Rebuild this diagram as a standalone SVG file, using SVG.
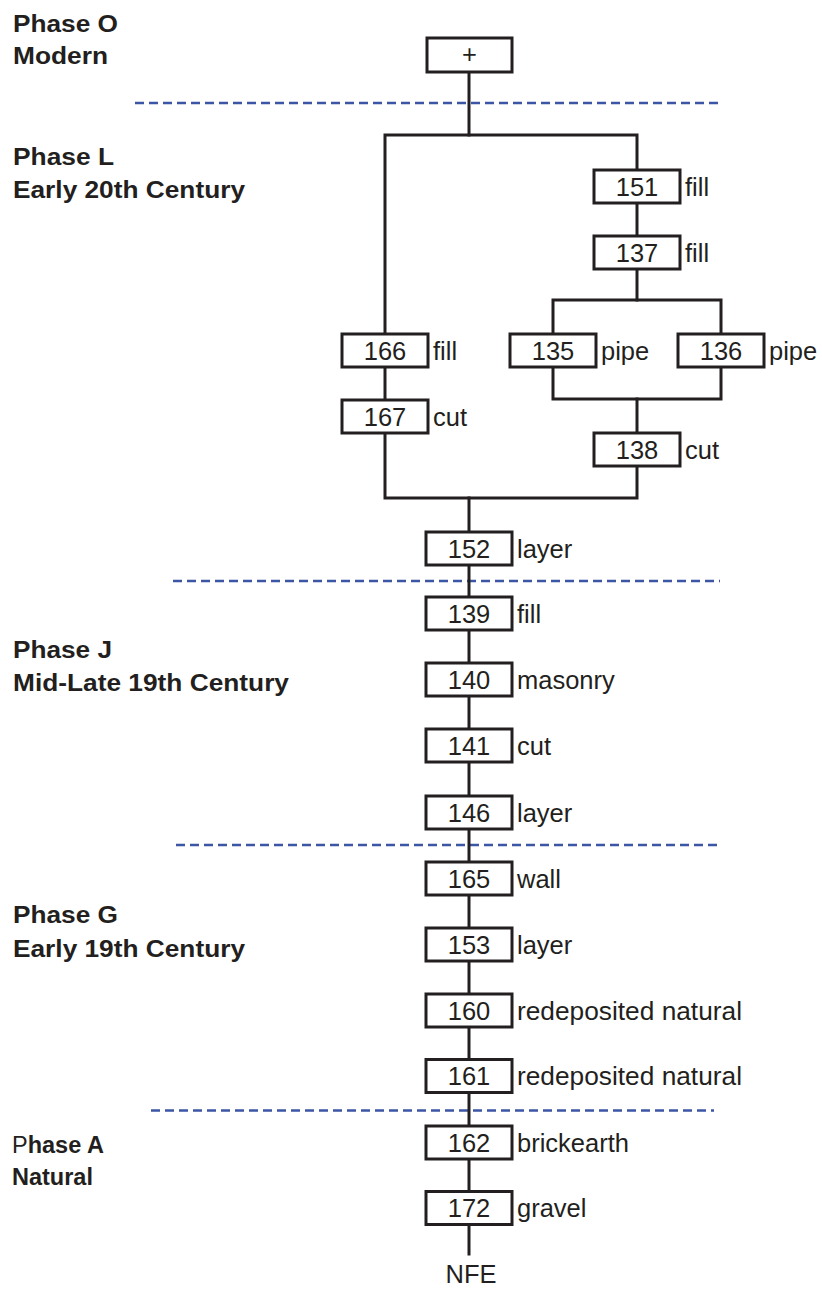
<svg xmlns="http://www.w3.org/2000/svg" width="822" height="1289" viewBox="0 0 822 1289">
  <style>
    .box { fill: #ffffff; stroke: #231f20; stroke-width: 3; }
    .num { font-family: "Liberation Sans", Arial, sans-serif; font-size: 25.5px; fill: #231f20; text-anchor: middle; }
    .lbl { font-family: "Liberation Sans", Arial, sans-serif; font-size: 25.5px; fill: #231f20; }
    .phase { font-family: "Liberation Sans", Arial, sans-serif; font-size: 23.5px; font-weight: bold; fill: #231f20; }
    .wire { fill: none; stroke: #231f20; stroke-width: 3; stroke-linejoin: miter; stroke-linecap: square; }
    .divider { stroke: #3c56a5; stroke-width: 2.5; stroke-dasharray: 9 5; fill: none; }
  </style>

  <!-- phase titles -->
  <g id="phase-o">
    <text class="phase" x="13" y="32" textLength="105" lengthAdjust="spacingAndGlyphs">Phase O</text>
    <text class="phase" x="13" y="64" textLength="95" lengthAdjust="spacingAndGlyphs">Modern</text>
  </g>
  <g id="phase-l">
    <text class="phase" x="13" y="165" textLength="101" lengthAdjust="spacingAndGlyphs">Phase L</text>
    <text class="phase" x="13" y="198" textLength="232" lengthAdjust="spacingAndGlyphs">Early 20th Century</text>
  </g>
  <g id="phase-j">
    <text class="phase" x="13" y="658" textLength="99" lengthAdjust="spacingAndGlyphs">Phase J</text>
    <text class="phase" x="13" y="691" textLength="276" lengthAdjust="spacingAndGlyphs">Mid-Late 19th Century</text>
  </g>
  <g id="phase-g">
    <text class="phase" x="13" y="923" textLength="105" lengthAdjust="spacingAndGlyphs">Phase G</text>
    <text class="phase" x="13" y="957" textLength="232" lengthAdjust="spacingAndGlyphs">Early 19th Century</text>
  </g>
  <g id="phase-a">
    <text class="phase" x="12" y="1153"><tspan font-weight="normal">P</tspan>hase A</text>
    <text class="phase" x="12" y="1185">Natural</text>
  </g>

  <!-- phase boundaries -->
  <g id="boundaries">
    <line class="divider" x1="135" y1="103" x2="718" y2="103"/>
    <line class="divider" x1="173" y1="581" x2="720" y2="581"/>
    <line class="divider" x1="176" y1="845" x2="717" y2="845"/>
    <line class="divider" x1="151" y1="1110.5" x2="714" y2="1110.5"/>
  </g>

  <!-- stratigraphic links -->
  <g id="connectors">
    <path class="wire" d="M469 72 V135"/>
    <path class="wire" d="M385 334 V135 H637 V170"/>
    <path class="wire" d="M637 203 V236"/>
    <path class="wire" d="M637 269 V300"/>
    <path class="wire" d="M553 334 V300 H721 V334"/>
    <path class="wire" d="M553 367 V399 H721 V367"/>
    <path class="wire" d="M637 399 V433"/>
    <path class="wire" d="M385 367 V400"/>
    <path class="wire" d="M385 433 V498 H637 V466"/>
    <path class="wire" d="M469 498 V532"/>
    <path class="wire" d="M469 565 V597"/>
    <path class="wire" d="M469 630 V663"/>
    <path class="wire" d="M469 696 V729"/>
    <path class="wire" d="M469 762 V796"/>
    <path class="wire" d="M469 829 V862"/>
    <path class="wire" d="M469 895 V928"/>
    <path class="wire" d="M469 961 V994"/>
    <path class="wire" d="M469 1027 V1059.5"/>
    <path class="wire" d="M469 1092.5 V1126"/>
    <path class="wire" d="M469 1159 V1191.5"/>
    <path class="wire" d="M469 1224.5 V1254"/>
  </g>

  <!-- contexts -->
  <g id="n-top">
    <rect class="box" x="427" y="38" width="85" height="34"/>
    <text class="num" x="469.5" y="63" font-size="22">+</text>
  </g>
  <g id="n151">
    <rect class="box" x="594" y="170" width="86" height="33"/>
    <text class="num" x="637" y="195.5">151</text>
    <text class="lbl" x="685" y="195.5">fill</text>
  </g>
  <g id="n137">
    <rect class="box" x="594" y="236" width="86" height="33"/>
    <text class="num" x="637" y="261.5">137</text>
    <text class="lbl" x="685" y="261.5">fill</text>
  </g>
  <g id="n166">
    <rect class="box" x="342" y="334" width="86" height="33"/>
    <text class="num" x="385" y="359.5">166</text>
    <text class="lbl" x="433" y="359.5">fill</text>
  </g>
  <g id="n135">
    <rect class="box" x="510" y="334" width="86" height="33"/>
    <text class="num" x="553" y="359.5">135</text>
    <text class="lbl" x="601" y="359.5">pipe</text>
  </g>
  <g id="n136">
    <rect class="box" x="678" y="334" width="86" height="33"/>
    <text class="num" x="721" y="359.5">136</text>
    <text class="lbl" x="769" y="359.5">pipe</text>
  </g>
  <g id="n167">
    <rect class="box" x="342" y="400" width="86" height="33"/>
    <text class="num" x="385" y="425.5">167</text>
    <text class="lbl" x="433" y="425.5">cut</text>
  </g>
  <g id="n138">
    <rect class="box" x="594" y="433" width="86" height="33"/>
    <text class="num" x="637" y="458.5">138</text>
    <text class="lbl" x="685" y="458.5">cut</text>
  </g>
  <g id="n152">
    <rect class="box" x="426" y="532" width="86" height="33"/>
    <text class="num" x="469" y="557.5">152</text>
    <text class="lbl" x="517" y="557.5">layer</text>
  </g>
  <g id="n139">
    <rect class="box" x="426" y="597" width="86" height="33"/>
    <text class="num" x="469" y="622.5">139</text>
    <text class="lbl" x="517" y="622.5">fill</text>
  </g>
  <g id="n140">
    <rect class="box" x="426" y="663" width="86" height="33"/>
    <text class="num" x="469" y="688.5">140</text>
    <text class="lbl" x="517" y="688.5">masonry</text>
  </g>
  <g id="n141">
    <rect class="box" x="426" y="729" width="86" height="33"/>
    <text class="num" x="469" y="754.5">141</text>
    <text class="lbl" x="517" y="754.5">cut</text>
  </g>
  <g id="n146">
    <rect class="box" x="426" y="796" width="86" height="33"/>
    <text class="num" x="469" y="821.5">146</text>
    <text class="lbl" x="517" y="821.5">layer</text>
  </g>
  <g id="n165">
    <rect class="box" x="426" y="862" width="86" height="33"/>
    <text class="num" x="469" y="887.5">165</text>
    <text class="lbl" x="517" y="887.5">wall</text>
  </g>
  <g id="n153">
    <rect class="box" x="426" y="928" width="86" height="33"/>
    <text class="num" x="469" y="953.5">153</text>
    <text class="lbl" x="517" y="953.5">layer</text>
  </g>
  <g id="n160">
    <rect class="box" x="426" y="994" width="86" height="33"/>
    <text class="num" x="469" y="1019.5">160</text>
    <text class="lbl" x="517" y="1019.5" textLength="225" lengthAdjust="spacingAndGlyphs">redeposited natural</text>
  </g>
  <g id="n161">
    <rect class="box" x="426" y="1059.5" width="86" height="33"/>
    <text class="num" x="469" y="1085">161</text>
    <text class="lbl" x="517" y="1085" textLength="225" lengthAdjust="spacingAndGlyphs">redeposited natural</text>
  </g>
  <g id="n162">
    <rect class="box" x="426" y="1126" width="86" height="33"/>
    <text class="num" x="469" y="1151.5">162</text>
    <text class="lbl" x="517" y="1151.5">brickearth</text>
  </g>
  <g id="n172">
    <rect class="box" x="426" y="1191.5" width="86" height="33"/>
    <text class="num" x="469" y="1217">172</text>
    <text class="lbl" x="517" y="1217">gravel</text>
  </g>
  <g id="n-nfe">
    <text class="num" x="471" y="1283">NFE</text>
  </g>
</svg>
